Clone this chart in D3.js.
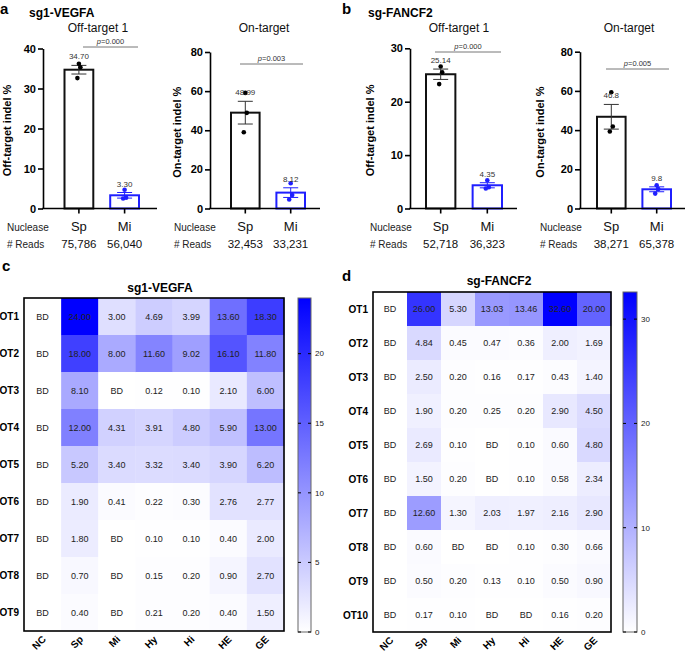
<!DOCTYPE html>
<html><head><meta charset="utf-8">
<script src="https://cdn.jsdelivr.net/npm/d3@7"></script>
<style>
body{margin:0;background:#fff}
svg{font-family:"Liberation Sans",Arial,Helvetica,sans-serif;display:block}
</style>
</head><body>
<svg id="chart" width="686" height="652"></svg>
<script>
// ---------------- DATA ----------------
const nucleases = ["Sp", "Mi"];

// Panel a : sg1-VEGFA
const aOffMeans = [34.70, 3.30];
const aOffSem = [1.08, 0.70];
const aOffDots = [[36.2, 35.3, 32.6], [4.7, 2.7, 2.5]];
const aOffReads = ["75,786", "56,040"];
const aOffP = "0.000";

const aOnMeans = [48.99, 8.12];
const aOnSem = [5.81, 2.47];
const aOnDots = [[59.1, 48.9, 39.0], [12.9, 6.9, 4.6]];
const aOnReads = ["32,453", "33,231"];
const aOnP = "0.003";

// Panel b : sg-FANCF2
const bOffMeans = [25.14, 4.35];
const bOffSem = [0.97, 0.48];
const bOffDots = [[26.6, 25.5, 23.3], [5.3, 4.0, 3.75]];
const bOffReads = ["52,718", "36,323"];
const bOffP = "0.000";

const bOnMeans = [46.8, 9.8];
const bOnSem = [6.3, 1.25];
const bOnDots = [[59.3, 41.8, 39.3], [11.9, 9.9, 7.6]];
const bOnReads = ["38,271", "65,378"];
const bOnP = "0.005";

// Heatmaps
const hmCols = ["NC", "Sp", "Mi", "Hy", "Hi", "HE", "GE"];
const vegfaRows = ["OT1", "OT2", "OT3", "OT4", "OT5", "OT6", "OT7", "OT8", "OT9"];
const vegfaVals = [
  [null, 24.00, 3.00, 4.69, 3.99, 13.60, 18.30],
  [null, 18.00, 8.00, 11.60, 9.02, 16.10, 11.80],
  [null, 8.10, null, 0.12, 0.10, 2.10, 6.00],
  [null, 12.00, 4.31, 3.91, 4.80, 5.90, 13.00],
  [null, 5.20, 3.40, 3.32, 3.40, 3.90, 6.20],
  [null, 1.90, 0.41, 0.22, 0.30, 2.76, 2.77],
  [null, 1.80, null, 0.10, 0.10, 0.40, 2.00],
  [null, 0.70, null, 0.15, 0.20, 0.90, 2.70],
  [null, 0.40, null, 0.21, 0.20, 0.40, 1.50]
];
const vegfaTicks = [0, 5, 10, 15, 20];

const fancfRows = ["OT1", "OT2", "OT3", "OT4", "OT5", "OT6", "OT7", "OT8", "OT9", "OT10"];
const fancfVals = [
  [null, 26.00, 5.30, 13.03, 13.46, 32.60, 20.00],
  [null, 4.84, 0.45, 0.47, 0.36, 2.00, 1.69],
  [null, 2.50, 0.20, 0.16, 0.17, 0.43, 1.40],
  [null, 1.90, 0.20, 0.25, 0.20, 2.90, 4.50],
  [null, 2.69, 0.10, null, 0.10, 0.60, 4.80],
  [null, 1.50, 0.20, null, 0.10, 0.58, 2.34],
  [null, 12.60, 1.30, 2.03, 1.97, 2.16, 2.90],
  [null, 0.60, null, null, 0.10, 0.30, 0.66],
  [null, 0.50, 0.20, 0.13, 0.10, 0.50, 0.90],
  [null, 0.17, 0.10, null, null, 0.16, 0.20]
];
const fancfTicks = [0, 10, 20, 30];

// ---------------- DRAW ----------------
const svg = d3.select("#chart");
const BLUE = "#1f1fff";
const colors = {Sp: "#111", Mi: BLUE};

function barChart(c) {
  const g = svg.append("g");
  const y = d3.scaleLinear().domain([0, c.max]).range([c.y0, c.y1]);
  const x = d3.scaleBand().domain(nucleases).range([c.barL, c.barR]).paddingInner(0.37);
  const cx = d => x(d) + x.bandwidth() / 2;

  // title
  g.append("text").attr("x", c.titleX).attr("y", 32).attr("text-anchor", "middle")
    .attr("font-size", 12).attr("fill", "#111").text(c.title);

  // y axis
  const ya = g.append("g").attr("transform", `translate(${c.ax},0)`)
    .call(d3.axisLeft(y).tickValues(c.ticks).tickSize(5).tickSizeOuter(0).tickPadding(2));
  ya.select(".domain").attr("stroke", "#000").attr("stroke-width", 1.6);
  ya.selectAll(".tick line").attr("stroke", "#000").attr("stroke-width", 1.6);
  ya.selectAll(".tick text").attr("font-size", 11).attr("font-weight", "bold")
    .attr("font-family", "Liberation Sans, Arial, sans-serif").attr("fill", "#000");

  // y label
  g.append("text").attr("transform", `translate(${c.ylabX},${(c.y0 + c.y1) / 2 + 2}) rotate(-90)`)
    .attr("text-anchor", "middle").attr("font-size", 11).attr("font-weight", "bold")
    .attr("fill", "#000").text(c.ylab);

  // bars
  nucleases.forEach((n, i) => {
    const col = colors[n];
    g.append("rect").attr("x", x(n)).attr("y", y(c.means[i]))
      .attr("width", x.bandwidth()).attr("height", y(0) - y(c.means[i]))
      .attr("fill", "#fff").attr("stroke", col).attr("stroke-width", 2);
  });

  // x axis
  g.append("line").attr("x1", c.ax - 0.8).attr("x2", c.axEnd).attr("y1", y(0)).attr("y2", y(0))
    .attr("stroke", "#000").attr("stroke-width", 1.6);
  nucleases.forEach(n => {
    g.append("line").attr("x1", cx(n)).attr("x2", cx(n)).attr("y1", y(0)).attr("y2", y(0) + 5)
      .attr("stroke", "#000").attr("stroke-width", 1.6);
  });

  // error bars, dots, labels
  nucleases.forEach((n, i) => {
    const col = n === "Sp" ? "#333" : BLUE;
    const m = c.means[i], s = c.sem[i], xc = cx(n);
    g.append("line").attr("x1", xc).attr("x2", xc).attr("y1", y(m - s)).attr("y2", y(m + s))
      .attr("stroke", col).attr("stroke-width", 1);
    [m - s, m + s].forEach(v => {
      g.append("line").attr("x1", xc - 7.5).attr("x2", xc + 7.5).attr("y1", y(v)).attr("y2", y(v))
        .attr("stroke", col).attr("stroke-width", 1);
    });
    c.dots[i].forEach((v, k) => {
      const off = [0, 1.5, -1.5][k];
      g.append("circle").attr("cx", xc + off).attr("cy", y(v)).attr("r", 2.3)
        .attr("fill", n === "Sp" ? "#000" : BLUE);
    });
    g.append("text").attr("x", xc).attr("y", y(m + s) - 6).attr("text-anchor", "middle")
      .attr("font-size", 8).attr("fill", "#333").text(c.labels ? c.labels[i] : d3.format(".2f")(m));
  });

  // p-value
  g.append("line").attr("x1", c.pX1).attr("x2", c.pX2).attr("y1", c.pY).attr("y2", c.pY)
    .attr("stroke", "#777").attr("stroke-width", 1);
  const pt = g.append("text").attr("x", (c.pX1 + c.pX2) / 2).attr("y", c.pY - 3)
    .attr("text-anchor", "middle").attr("font-size", 7.5).attr("fill", "#333");
  pt.append("tspan").attr("font-style", "italic").text("p");
  pt.append("tspan").text("=" + c.p);

  // nuclease / reads rows
  g.append("text").attr("x", c.rowX).attr("y", 231).attr("font-size", 10).attr("fill", "#222").text("Nuclease");
  g.append("text").attr("x", c.rowX).attr("y", 248).attr("font-size", 10).attr("fill", "#222").text("# Reads");
  nucleases.forEach((n, i) => {
    g.append("text").attr("x", cx(n)).attr("y", 231).attr("text-anchor", "middle")
      .attr("font-size", 13).attr("fill", "#111").text(n);
    g.append("text").attr("x", cx(n)).attr("y", 248).attr("text-anchor", "middle")
      .attr("font-size", 11.5).attr("fill", "#111").text(c.reads[i]);
  });
}

barChart({title: "Off-target 1", titleX: 98, ax: 43, axEnd: 157, barL: 64.5, barR: 139, y0: 208.5, y1: 48.5,
  max: 40, ticks: [0, 10, 20, 30, 40], ylab: "Off-target indel %", ylabX: 11,
  means: aOffMeans, sem: aOffSem, dots: aOffDots, reads: aOffReads, p: aOffP,
  pX1: 83, pX2: 138, pY: 47, rowX: 7});
barChart({title: "On-target", titleX: 264, ax: 210, axEnd: 320, barL: 231, barR: 305, y0: 208.5, y1: 52,
  max: 80, ticks: [0, 20, 40, 60, 80], ylab: "On-target indel %", ylabX: 181,
  means: aOnMeans, sem: aOnSem, dots: aOnDots, reads: aOnReads, p: aOnP,
  pX1: 240, pX2: 303, pY: 64, rowX: 174});
barChart({title: "Off-target 1", titleX: 459, ax: 410, axEnd: 517, barL: 426, barR: 502, y0: 208.5, y1: 48.3,
  max: 30, ticks: [0, 10, 20, 30], ylab: "Off-target indel %", ylabX: 374,
  means: bOffMeans, sem: bOffSem, dots: bOffDots, reads: bOffReads, p: bOffP,
  pX1: 435, pX2: 501, pY: 52, rowX: 370});
barChart({title: "On-target", titleX: 629, ax: 580, axEnd: 685, barL: 597, barR: 671, y0: 208.5, y1: 51.7,
  max: 80, ticks: [0, 20, 40, 60, 80], ylab: "On-target indel %", ylabX: 544,
  means: bOnMeans, sem: bOnSem, dots: bOnDots, reads: bOnReads, p: bOnP, labels: ["46.8", "9.8"],
  pX1: 606, pX2: 669, pY: 69, rowX: 540});

// panel letters and titles
[["a", 0, 14], ["b", 342, 14], ["c", 2, 271], ["d", 342, 281]].forEach(([t, x, y]) => {
  svg.append("text").attr("x", x).attr("y", y).attr("font-size", 15).attr("font-weight", "bold").attr("fill", "#000").text(t);
});
svg.append("text").attr("x", 29).attr("y", 17).attr("font-size", 12).attr("font-weight", "bold").text("sg1-VEGFA");
svg.append("text").attr("x", 368).attr("y", 17).attr("font-size", 12).attr("font-weight", "bold").text("sg-FANCF2");

function heatmap(c) {
  const g = svg.append("g");
  const x = d3.scaleBand().domain(hmCols).range([c.x0, c.x1]);
  const y = d3.scaleBand().domain(c.rows).range([c.y0, c.y1]);
  const maxV = d3.max(c.vals.flat());
  const color = d3.scaleLinear().domain([0, maxV]).range(["#ffffff", "#0000ff"]);
  const fmt = d3.format(".2f");

  c.vals.forEach((row, r) => {
    row.forEach((v, k) => {
      const xx = x(hmCols[k]), yy = y(c.rows[r]);
      g.append("rect").attr("x", xx).attr("y", yy).attr("width", x.bandwidth() + 0.3).attr("height", y.bandwidth() + 0.3)
        .attr("fill", v == null ? "#fff" : color(v));
      g.append("text").attr("x", xx + x.bandwidth() / 2).attr("y", yy + y.bandwidth() / 2).attr("dy", "0.35em")
        .attr("text-anchor", "middle").attr("font-size", 9).attr("fill", "#222")
        .text(v == null ? "BD" : fmt(v));
    });
  });
  g.append("rect").attr("x", c.x0).attr("y", c.y0).attr("width", c.x1 - c.x0).attr("height", c.y1 - c.y0)
    .attr("fill", "none").attr("stroke", "#000").attr("stroke-width", 1.6);

  // row labels
  c.rows.forEach(rw => {
    g.append("text").attr("x", c.x0 - 5).attr("y", y(rw) + y.bandwidth() / 2).attr("dy", "0.35em")
      .attr("text-anchor", "end").attr("font-size", 10).attr("font-weight", "bold").attr("fill", "#000").text(rw);
  });
  // column labels
  hmCols.forEach(cl => {
    const px = x(cl) + x.bandwidth() / 2 + 4, py = c.y1 + 9;
    g.append("text").attr("transform", `translate(${px},${py}) rotate(-45)`)
      .attr("text-anchor", "end").attr("font-size", 10).attr("font-weight", "bold").attr("fill", "#000").text(cl);
  });
  // title
  g.append("text").attr("x", c.titleX).attr("y", c.titleY).attr("text-anchor", "middle")
    .attr("font-size", 12).attr("font-weight", "bold").attr("fill", "#000").text(c.title);

  // colorbar
  const gid = "grad" + c.id;
  const grad = svg.append("defs").append("linearGradient").attr("id", gid)
    .attr("x1", 0).attr("y1", 1).attr("x2", 0).attr("y2", 0);
  grad.append("stop").attr("offset", 0).attr("stop-color", "#ffffff");
  grad.append("stop").attr("offset", 1).attr("stop-color", "#0000ff");
  const cy = d3.scaleLinear().domain([0, maxV]).range([c.cbY1, c.cbY0]);
  g.append("rect").attr("x", c.cbX).attr("y", c.cbY0).attr("width", c.cbW).attr("height", c.cbY1 - c.cbY0)
    .attr("fill", `url(#${gid})`).attr("stroke", "#666").attr("stroke-width", 1);
  c.ticks.forEach(t => {
    g.append("line").attr("x1", c.cbX).attr("x2", c.cbX + 3).attr("y1", cy(t)).attr("y2", cy(t)).attr("stroke", "#000").attr("stroke-width", 1);
    g.append("line").attr("x1", c.cbX + c.cbW - 3).attr("x2", c.cbX + c.cbW).attr("y1", cy(t)).attr("y2", cy(t)).attr("stroke", "#000").attr("stroke-width", 1);
    g.append("text").attr("x", c.cbX + c.cbW + 4).attr("y", cy(t)).attr("dy", "0.35em")
      .attr("font-size", 8).attr("fill", "#222").text(t);
  });
}

heatmap({id: "c", rows: vegfaRows, vals: vegfaVals, ticks: vegfaTicks, x0: 24, x1: 284, y0: 298, y1: 631,
  title: "sg1-VEGFA", titleX: 160, titleY: 292, cbX: 298, cbW: 13, cbY0: 298, cbY1: 632});
heatmap({id: "d", rows: fancfRows, vals: fancfVals, ticks: fancfTicks, x0: 373, x1: 611, y0: 292, y1: 632,
  title: "sg-FANCF2", titleX: 499, titleY: 285, cbX: 623, cbW: 14, cbY0: 292, cbY1: 632});
</script>
</body></html>
